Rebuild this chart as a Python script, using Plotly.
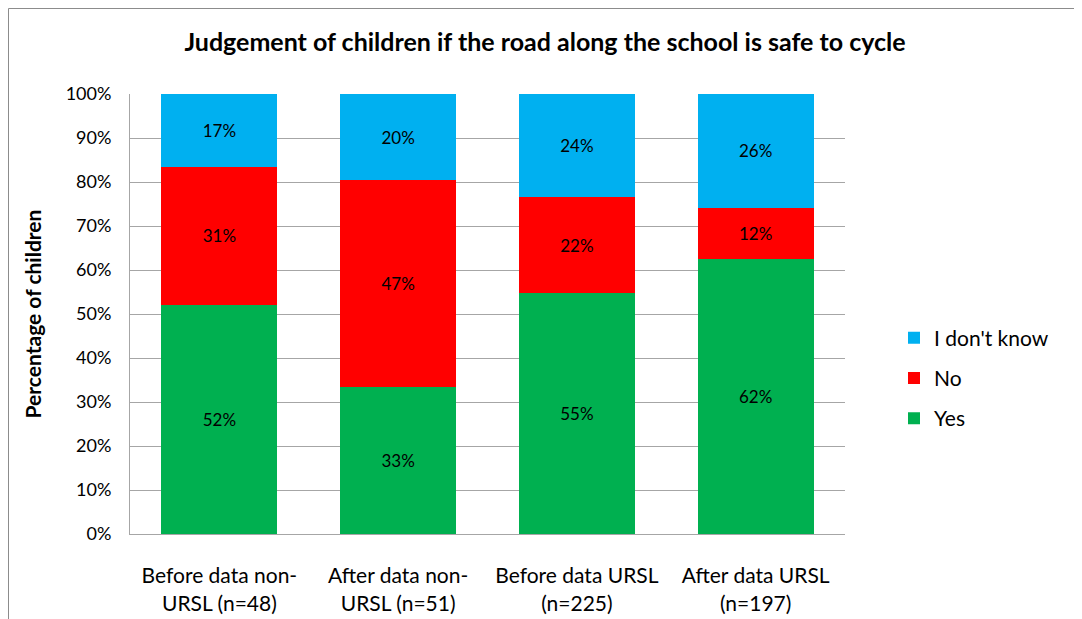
import plotly.graph_objects as go

# Sample Data
categories = ["Before data non-<br>URSL (n=48)", "After data non-<br>URSL (n=51)",
              "Before data URSL<br>(n=225)", "After data URSL<br>(n=197)"]
yes = [52.1, 33.3, 54.7, 62.4]
no = [31.3, 47.1, 21.8, 11.7]
dont_know = [16.7, 19.6, 23.6, 25.9]

fnt = "Lato, 'Open Sans', sans-serif"

# the page body adds 8px around the figure, so the figure is 8px smaller on each axis
W, H = 1074, 611
L, R, T, B = 122, 237, 86, 85
pw, ph = W - L - R, H - T - B

fig = go.Figure()
for rank, (name, vals, col) in enumerate([("Yes", yes, "#00B050"), ("No", no, "#FF0000"),
                                          ("I don't know", dont_know, "#00B0F0")]):
    fig.add_trace(go.Bar(x=categories, y=vals, name=name, legendgroup=name, legendrank=3 - rank,
                         marker=dict(color=col, line=dict(width=0)),
                         texttemplate="%{y:.0f}%", textposition="inside", insidetextanchor="middle",
                         textfont=dict(color="black", size=17, family=fnt)))

fig.update_layout(
    barmode="stack",
    bargap=0.35,
    width=W, height=H,
    margin=dict(l=L, r=R, t=T, b=B, autoexpand=False),
    paper_bgcolor="white", plot_bgcolor="white",
    font=dict(family=fnt, size=20, color="black"),
    title=dict(text="<b>Judgement of children if the road along the school is safe to cycle</b>",
               x=537 / W, xanchor="center", y=1 - 34 / H, yanchor="middle", font=dict(size=25)),
    legend=dict(x=(886 - L) / pw, y=(H - B - 370) / ph, xanchor="left", yanchor="middle",
                traceorder="grouped", font=dict(size=21), tracegroupgap=10),
    uniformtext=dict(mode=False),
)
fig.update_yaxes(range=[0, 100], dtick=10, ticksuffix="%", showgrid=True, gridcolor="#A6A6A6",
                 showline=True, linecolor="#A6A6A6", ticks="", ticklabelstandoff=14,
                 title=dict(text="<b>Percentage of children</b>", font=dict(size=21), standoff=18),
                 tickfont=dict(size=18))
fig.update_xaxes(showline=True, linecolor="#A6A6A6", tickfont=dict(size=21), ticks="",
                 ticklabelstandoff=23)
fig.add_shape(type="rect", xref="paper", yref="paper", x0=(0.5 - L) / pw, x1=(1067 - L) / pw,
              y0=(H - B - 640) / ph, y1=(H - B - 0.5) / ph,
              line=dict(color="#8C8C8C", width=1), fillcolor="rgba(0,0,0,0)", layer="above")

fig.write_html("out.html")
